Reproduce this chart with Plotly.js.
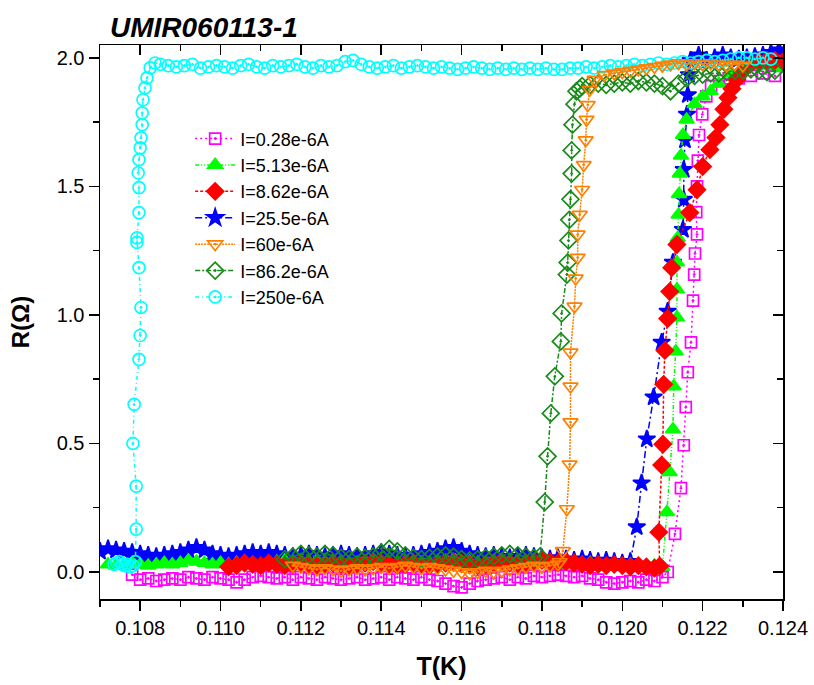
<!DOCTYPE html>
<html>
<head>
<meta charset="utf-8">
<script src="https://cdn.plot.ly/plotly-3.0.1.min.js"></script>
<style>html,body{margin:0;padding:0;background:#fff;}#chart{width:814px;height:685px;}</style>
</head>
<body>
<div id="chart"></div>
<script>
// ---------- data (T in K, R in Ohm) ----------
const seriesNames = ["I=0.28e-6A","I=5.13e-6A","I=8.62e-6A","I=25.5e-6A","I=60e-6A","I=86.2e-6A","I=250e-6A"];

const magentaT = [0.1078,0.108,0.1082,0.1084,0.1086,0.1088,0.109,0.1092,0.1094,0.1096,0.1098,0.11,0.1102,0.1104,0.1106,0.1108,0.111,0.1112,0.1114,0.1116,0.1118,0.112,0.1122,0.1124,0.1126,0.1128,0.113,0.1132,0.1134,0.1136,0.1138,0.114,0.1142,0.1144,0.1146,0.1148,0.115,0.1152,0.1154,0.1156,0.1158,0.116,0.1162,0.1164,0.1166,0.1168,0.117,0.1172,0.1174,0.1176,0.1178,0.118,0.1182,0.1184,0.1186,0.1188,0.119,0.1192,0.1194,0.1196,0.1198,0.12,0.1202,0.1204,0.1206,0.1208,0.121,
  0.12113,0.12131,0.12146,0.12153,0.12158,0.12163,0.12171,0.12176,0.12179,0.12181,0.12186,0.12184,0.12186,0.12188,0.12191,0.12199,0.12209,0.12221,0.12241,0.12265,0.1229,0.1232,0.1235,0.1238];
const magentaR = [-0.01,-0.03,-0.025,-0.035,-0.03,-0.025,-0.03,-0.02,-0.025,-0.03,-0.02,-0.025,-0.03,-0.04,-0.03,-0.02,-0.015,-0.02,-0.025,-0.02,-0.03,-0.02,-0.025,-0.03,-0.02,-0.025,-0.03,-0.025,-0.02,-0.03,-0.025,-0.02,-0.03,-0.02,-0.025,-0.03,-0.02,-0.03,-0.035,-0.045,-0.055,-0.06,-0.045,-0.035,-0.03,-0.025,-0.02,-0.03,-0.02,-0.025,-0.015,-0.02,-0.015,-0.01,-0.015,-0.02,-0.015,-0.025,-0.03,-0.04,-0.045,-0.04,-0.035,-0.04,-0.03,-0.035,-0.02,
  0.0,0.148,0.326,0.493,0.641,0.777,0.893,1.056,1.157,1.239,1.313,1.40,1.50,1.60,1.70,1.78,1.85,1.89,1.91,1.92,1.92,1.93,1.94,1.93];

const limeT = [0.1072,0.1074,0.1076,0.1078,0.108,0.1082,0.1084,0.1086,0.1088,0.109,0.1092,0.1094,0.1096,0.1098,0.11,0.1102,0.1104,0.1106,0.1108,0.111,0.1112,0.1114,0.1116,0.1118,0.112,0.1122,0.1124,0.1126,0.1128,0.113,0.1132,0.1134,0.1136,0.1138,0.114,0.1142,0.1144,0.1146,0.1148,0.115,0.1152,0.1154,0.1156,0.1158,0.116,0.1162,0.1164,0.1166,0.1168,0.117,0.1172,0.1174,0.1176,0.1178,0.118,0.1182,0.1184,0.1186,0.1188,0.119,0.1192,0.1194,0.1196,0.1198,0.12,0.1202,0.1204,0.1206,0.1208,0.121,
  0.12111,0.12118,0.12126,0.12128,0.12133,0.12136,0.12136,0.12136,0.12138,0.1214,0.12141,0.12143,0.12146,0.12151,0.1216,0.1218,0.122,0.1222,0.1224,0.1227,0.123,0.1233,0.1236,0.1239];
const limeR = [0.03,0.025,0.03,0.035,0.03,0.025,0.03,0.035,0.03,0.035,0.045,0.04,0.035,0.03,0.035,0.03,0.035,0.04,0.035,0.03,0.035,0.04,0.045,0.04,0.035,0.04,0.045,0.04,0.035,0.04,0.035,0.03,0.035,0.04,0.035,0.03,0.035,0.04,0.035,0.03,0.035,0.04,0.035,0.03,0.035,0.04,0.035,0.03,0.035,0.04,0.035,0.03,0.035,0.04,0.035,0.03,0.035,0.03,0.025,0.03,0.035,0.03,0.025,0.03,0.025,0.03,0.025,0.02,0.025,0.02,
  0.233,0.388,0.555,0.722,0.858,0.99,1.099,1.204,1.30,1.39,1.47,1.55,1.62,1.70,1.76,1.82,1.85,1.87,1.90,1.94,1.96,1.97,1.97,1.96];

const redT = [0.1102,0.1104,0.1106,0.1108,0.111,0.1112,0.1114,0.1116,0.1118,0.112,0.1122,0.1124,0.1126,0.1128,0.113,0.1132,0.1134,0.1136,0.1138,0.114,0.1142,0.1144,0.1146,0.1148,0.115,0.1152,0.1154,0.1156,0.1158,0.116,0.1162,0.1164,0.1166,0.1168,0.117,0.1172,0.1174,0.1176,0.1178,0.118,0.1182,0.1184,0.1186,0.1188,0.119,0.1192,0.1194,0.1196,0.1198,0.12,0.1202,0.1204,0.1206,0.1208,
  0.12093,0.12091,0.12098,0.12101,0.12103,0.12106,0.12113,0.12118,0.12123,0.12136,0.12168,0.12186,0.122,0.12218,0.12233,0.12243,0.12253,0.12263,0.12273,0.12285,0.12298,0.12318,0.1234,0.1236,0.1238,0.124];
const redR = [0.02,0.025,0.035,0.03,0.025,0.035,0.03,0.025,0.03,0.035,0.03,0.025,0.03,0.035,0.03,0.025,0.03,0.035,0.04,0.035,0.03,0.025,0.03,0.035,0.03,0.025,0.03,0.035,0.04,0.035,0.03,0.025,0.03,0.035,0.04,0.035,0.03,0.035,0.04,0.045,0.04,0.035,0.04,0.035,0.03,0.025,0.03,0.025,0.03,0.025,0.02,0.025,0.02,0.015,
  0.023,0.155,0.416,0.497,0.73,0.862,0.986,1.091,1.184,1.274,1.398,1.487,1.577,1.643,1.69,1.74,1.80,1.845,1.88,1.915,1.946,1.975,1.985,1.99,1.99,1.985];

const blueT = [0.107,0.1072,0.1074,0.1076,0.1078,0.108,0.1082,0.1084,0.1086,0.1088,0.109,0.1092,0.1094,0.1096,0.1098,0.11,0.1102,0.1104,0.1106,0.1108,0.111,0.1112,0.1114,0.1116,0.1118,0.112,0.1122,0.1124,0.1126,0.1128,0.113,0.1132,0.1134,0.1136,0.1138,0.114,0.1142,0.1144,0.1146,0.1148,0.115,0.1152,0.1154,0.1156,0.1158,0.116,0.1162,0.1164,0.1166,0.1168,0.117,0.1172,0.1174,0.1176,0.1178,0.118,0.1182,0.1184,0.1186,0.1188,0.119,0.1192,0.1194,0.1196,0.1198,0.12,0.1202,
  0.12036,0.12048,0.12061,0.12078,0.12098,0.12113,0.12126,0.12151,0.12153,0.12153,0.12156,0.12161,0.12163,0.12166,0.1217,
  0.1219,0.1221,0.1223,0.1225,0.1227,0.1229,0.1231,0.1233,0.1235,0.1237,0.1239];
const blueR = [0.08,0.09,0.085,0.08,0.075,0.07,0.065,0.06,0.065,0.07,0.075,0.085,0.095,0.085,0.07,0.065,0.06,0.065,0.07,0.075,0.07,0.075,0.07,0.065,0.06,0.065,0.07,0.065,0.06,0.065,0.07,0.065,0.06,0.065,0.07,0.075,0.07,0.065,0.06,0.065,0.07,0.075,0.08,0.09,0.095,0.08,0.07,0.065,0.06,0.065,0.06,0.055,0.06,0.065,0.06,0.055,0.05,0.055,0.05,0.045,0.05,0.045,0.04,0.045,0.04,0.035,0.04,
  0.175,0.346,0.517,0.68,0.893,1.014,1.204,1.332,1.449,1.565,1.68,1.78,1.856,1.934,1.99,
  2.01,1.99,2.0,2.01,2.0,1.995,2.0,2.005,2.01,2.02,2.03];

const orangeT = [0.1118,0.112,0.1122,0.1124,0.1126,0.1128,0.113,0.1132,0.1134,0.1136,0.1138,0.114,0.1142,0.1144,0.1146,0.1148,0.115,0.1152,0.1154,0.1156,0.1158,0.116,0.1162,0.1164,0.1166,0.1168,0.117,0.1172,0.1174,0.1176,0.1178,0.118,0.1182,0.1184,
  0.11844,0.11852,0.11862,0.11869,0.11871,0.11871,0.11871,0.11881,0.11884,0.11889,0.11889,0.11894,0.119,0.11904,0.11909,0.11911,0.11914,0.11919,0.11931,0.11956,
  0.1198,0.12,0.1202,0.1204,0.1206,0.1208,0.121,0.1212,0.1214,0.1216,0.1218,0.122,0.1222,0.1224,0.1226,0.1228,0.123];
const orangeR = [0.025,0.02,0.015,0.01,0.015,0.01,0.005,0.01,0.015,0.01,0.015,0.02,0.015,0.02,0.025,0.02,0.015,0.02,0.015,0.01,0.005,0.0,-0.005,0.0,0.005,0.0,0.005,0.01,0.015,0.02,0.025,0.02,0.025,0.03,
  0.039,0.082,0.245,0.419,0.583,0.722,0.854,1.033,1.142,1.223,1.313,1.39,1.487,1.584,1.68,1.76,1.817,1.876,1.915,1.934,
  1.94,1.945,1.95,1.955,1.96,1.965,1.97,1.975,1.98,1.975,1.98,1.975,1.98,1.975,1.97,1.975,1.97];

const dgreenT = [0.1116,0.1118,0.112,0.1122,0.1124,0.1126,0.1128,0.113,0.1132,0.1134,0.1136,0.1138,0.114,0.1142,0.1144,0.1146,0.1148,0.115,0.1152,0.1154,0.1156,0.1158,0.116,0.1162,0.1164,0.1166,0.1168,0.117,0.1172,0.1174,0.1176,0.1178,
  0.11795,0.11807,0.11814,0.11822,0.11832,0.11847,0.11849,0.11862,0.11864,0.11866,0.11868,0.11871,0.11874,0.11874,0.11876,0.11881,0.11886,0.11894,
  0.119,0.1192,0.1194,0.1196,0.1198,0.12,0.1202,0.1204,0.1206,0.1208,0.121,0.1212,0.1214,0.1216,0.1218,0.122,0.1222,0.1224,0.1226,0.1228,0.123,0.1232,0.1234,0.1236,0.1238];
const dgreenR = [0.05,0.06,0.07,0.065,0.06,0.07,0.065,0.055,0.05,0.06,0.055,0.06,0.075,0.09,0.08,0.065,0.055,0.05,0.055,0.06,0.065,0.06,0.05,0.045,0.05,0.055,0.06,0.065,0.07,0.065,0.06,0.055,
  0.06,0.272,0.45,0.617,0.761,0.897,1.006,1.157,1.204,1.29,1.37,1.45,1.55,1.64,1.74,1.82,1.87,1.88,
  1.89,1.895,1.9,1.895,1.9,1.905,1.9,1.91,1.905,1.9,1.89,1.87,1.9,1.92,1.93,1.935,1.94,1.94,1.945,1.95,1.95,1.955,1.95,1.945,1.95];

const cyanT = [0.10735,0.10742,0.10748,0.10755,0.10762,0.10768,0.10775,0.10782,0.10788,
  0.1079,0.1079,0.10782,0.10785,0.10797,0.108,0.10802,0.10797,0.10792,0.10792,0.10797,0.10797,0.10795,0.10797,0.108,0.10802,0.10805,0.10805,0.10807,0.10812,0.10817,0.10825,0.10837,
  0.1085,0.1087,0.1089,0.1091,0.1093,0.1095,0.1097,0.1099,0.1101,0.1103,0.1105,0.1107,0.1109,0.1111,0.1113,0.1115,0.1117,0.1119,0.1121,0.1123,0.1125,0.1127,0.1129,0.1131,0.1133,0.1135,0.1137,0.1139,0.1141,0.1143,0.1145,0.1147,0.1149,0.1151,0.1153,0.1155,0.1157,0.1159,0.1161,0.1163,0.1165,0.1167,0.1169,0.1171,0.1173,0.1175,0.1177,0.1179,0.1181,0.1183,0.1185,0.1187,0.1189,0.1191,0.1193,0.1195,0.1197,0.1199,0.1201,0.1203,0.1205,0.1207,0.1209,0.1211,0.1213,0.1215,0.1217,0.1219,0.1221,0.1223,0.1225,0.1227,0.1229,0.1231,0.1233,0.1235,0.1237];
const cyanR = [0.03,0.035,0.04,0.03,0.025,0.03,0.02,0.025,0.04,
  0.167,0.334,0.5,0.652,0.827,0.92,1.029,1.184,1.282,1.30,1.398,1.495,1.553,1.604,1.65,1.689,1.74,1.786,1.837,1.883,1.922,1.961,1.98,
  1.975,1.97,1.965,1.97,1.975,1.96,1.965,1.97,1.965,1.96,1.97,1.975,1.965,1.96,1.97,1.965,1.97,1.975,1.965,1.96,1.97,1.965,1.97,1.985,1.99,1.975,1.965,1.96,1.965,1.97,1.96,1.965,1.97,1.965,1.96,1.965,1.96,1.955,1.96,1.965,1.96,1.955,1.96,1.955,1.96,1.955,1.96,1.955,1.96,1.955,1.955,1.96,1.96,1.965,1.96,1.965,1.97,1.965,1.97,1.975,1.97,1.975,1.98,1.975,1.98,1.985,1.98,1.985,1.99,1.985,1.99,1.995,2.0,2.0,1.995,2.0,1.995];

const xTickVals = [0.108,0.110,0.112,0.114,0.116,0.118,0.120,0.122,0.124];
const yTickVals = [0.0,0.5,1.0,1.5,2.0];
const chartTitle = "UMIR060113-1";

// ---------- traces ----------
const FONT = "Arial, 'Liberation Sans', sans-serif";
function mk(name, x, y, color, symbol, size, dash, rank) {
  return {
    type: 'scatter', mode: 'lines+markers', name: name, x: x, y: y,
    legendrank: rank,
    line: {color: color, width: 1.5, dash: dash},
    marker: {symbol: symbol, size: size, color: color, line: {color: color, width: 1.7}},
    cliponaxis: true
  };
}
const tBlue   = mk(seriesNames[3], blueT, blueR, '#0000FF', 'star', 13, '7px,3px,2px,3px', 4);
const tMag    = mk(seriesNames[0], magentaT, magentaR, '#FF00FF', 'square-open-dot', 11, '2px,3px', 1);
const tLime   = mk(seriesNames[1], limeT, limeR, '#00FF00', 'triangle-up', 13, '4px,2px,1px,2px,1px,2px', 2);
const tRed    = mk(seriesNames[2], redT, redR, '#FF0000', 'diamond', 13, '3px,2px', 3);
const tDgreen = mk(seriesNames[5], dgreenT, dgreenR, '#1A8A1A', 'diamond-open-dot', 13, '5px,2px,2px,2px', 6);
const tCyan   = mk(seriesNames[6], cyanT, cyanR, '#00FFFF', 'circle-open-dot', 12, '4px,3px,1px,3px', 7);
const tOrange = mk(seriesNames[4], orangeT, orangeR, '#FF8000', 'triangle-down-open-dot', 13, '2px,1px', 5);
const tFrame  = {type:'scatter', x: [], y: [], xaxis:'x2', yaxis:'y2', showlegend:false, hoverinfo:'skip'};

const xr = [0.107, 0.124], yr = [-0.105, 2.05];
const layout = {
  width: 814, height: 685,
  margin: {l: 100, r: 31, t: 45, b: 86},
  paper_bgcolor: '#fff', plot_bgcolor: '#fff',
  font: {family: FONT, color: '#000'},
  showlegend: true,
  title: {text: chartTitle, x: 110/814, xanchor: 'left', xref: 'container', y: 1 - 27/685, yref: 'container', yanchor: 'middle',
          font: {family: FONT, size: 28, weight: 'bold', style: 'italic', color: '#000'}},
  xaxis: {range: xr, tickvals: xTickVals, tickformat: '.3f', ticks: 'outside', ticklen: 10, tickwidth: 1.5, tickcolor: '#000',
          minor: {dtick: 0.001, tick0: 0.107, ticks: 'outside', ticklen: 6, tickwidth: 1.5, tickcolor: '#000', showgrid: false},
          showline: true, linewidth: 1.5, linecolor: '#000', mirror: true, showgrid: false, zeroline: false,
          tickfont: {family: FONT, size: 20}, title: {text: 'T(K)', font: {family: FONT, size: 25, weight: 'bold'}, standoff: 20}},
  yaxis: {range: yr, tickvals: yTickVals, tickformat: '.1f', ticks: 'outside', ticklen: 10, tickwidth: 1.5, tickcolor: '#000',
          minor: {dtick: 0.25, tick0: 0, ticks: 'outside', ticklen: 6, tickwidth: 1.5, tickcolor: '#000', showgrid: false},
          showline: true, linewidth: 1.5, linecolor: '#000', mirror: true, showgrid: false, zeroline: false,
          tickfont: {family: FONT, size: 20}, title: {text: 'R(Ω)', font: {family: FONT, size: 24, weight: 'bold'}, standoff: 20}},
  xaxis2: {overlaying: 'x', anchor: 'y2', side: 'top', range: xr, tickvals: xTickVals, ticks: 'inside', ticklen: 10, tickwidth: 1.5, tickcolor: '#000',
           minor: {dtick: 0.001, tick0: 0.107, ticks: 'inside', ticklen: 6, tickwidth: 1.5, tickcolor: '#000', showgrid: false},
           showticklabels: false, showline: false, showgrid: false, zeroline: false},
  yaxis2: {overlaying: 'y', anchor: 'x2', side: 'right', range: yr, tickvals: yTickVals, ticks: 'inside', ticklen: 10, tickwidth: 1.5, tickcolor: '#000',
           minor: {dtick: 0.25, tick0: 0, ticks: 'inside', ticklen: 6, tickwidth: 1.5, tickcolor: '#000', showgrid: false},
           showticklabels: false, showline: false, showgrid: false, zeroline: false},
  legend: {x: 0.132, y: 0.864, xanchor: 'left', yanchor: 'top', bgcolor: 'rgba(0,0,0,0)', borderwidth: 0,
           font: {family: FONT, size: 18}, tracegroupgap: 0, itemwidth: 40}
};

Plotly.newPlot('chart', [tBlue, tMag, tLime, tRed, tDgreen, tCyan, tOrange, tFrame], layout, {displayModeBar: false, staticPlot: true});
</script>
</body>
</html>
